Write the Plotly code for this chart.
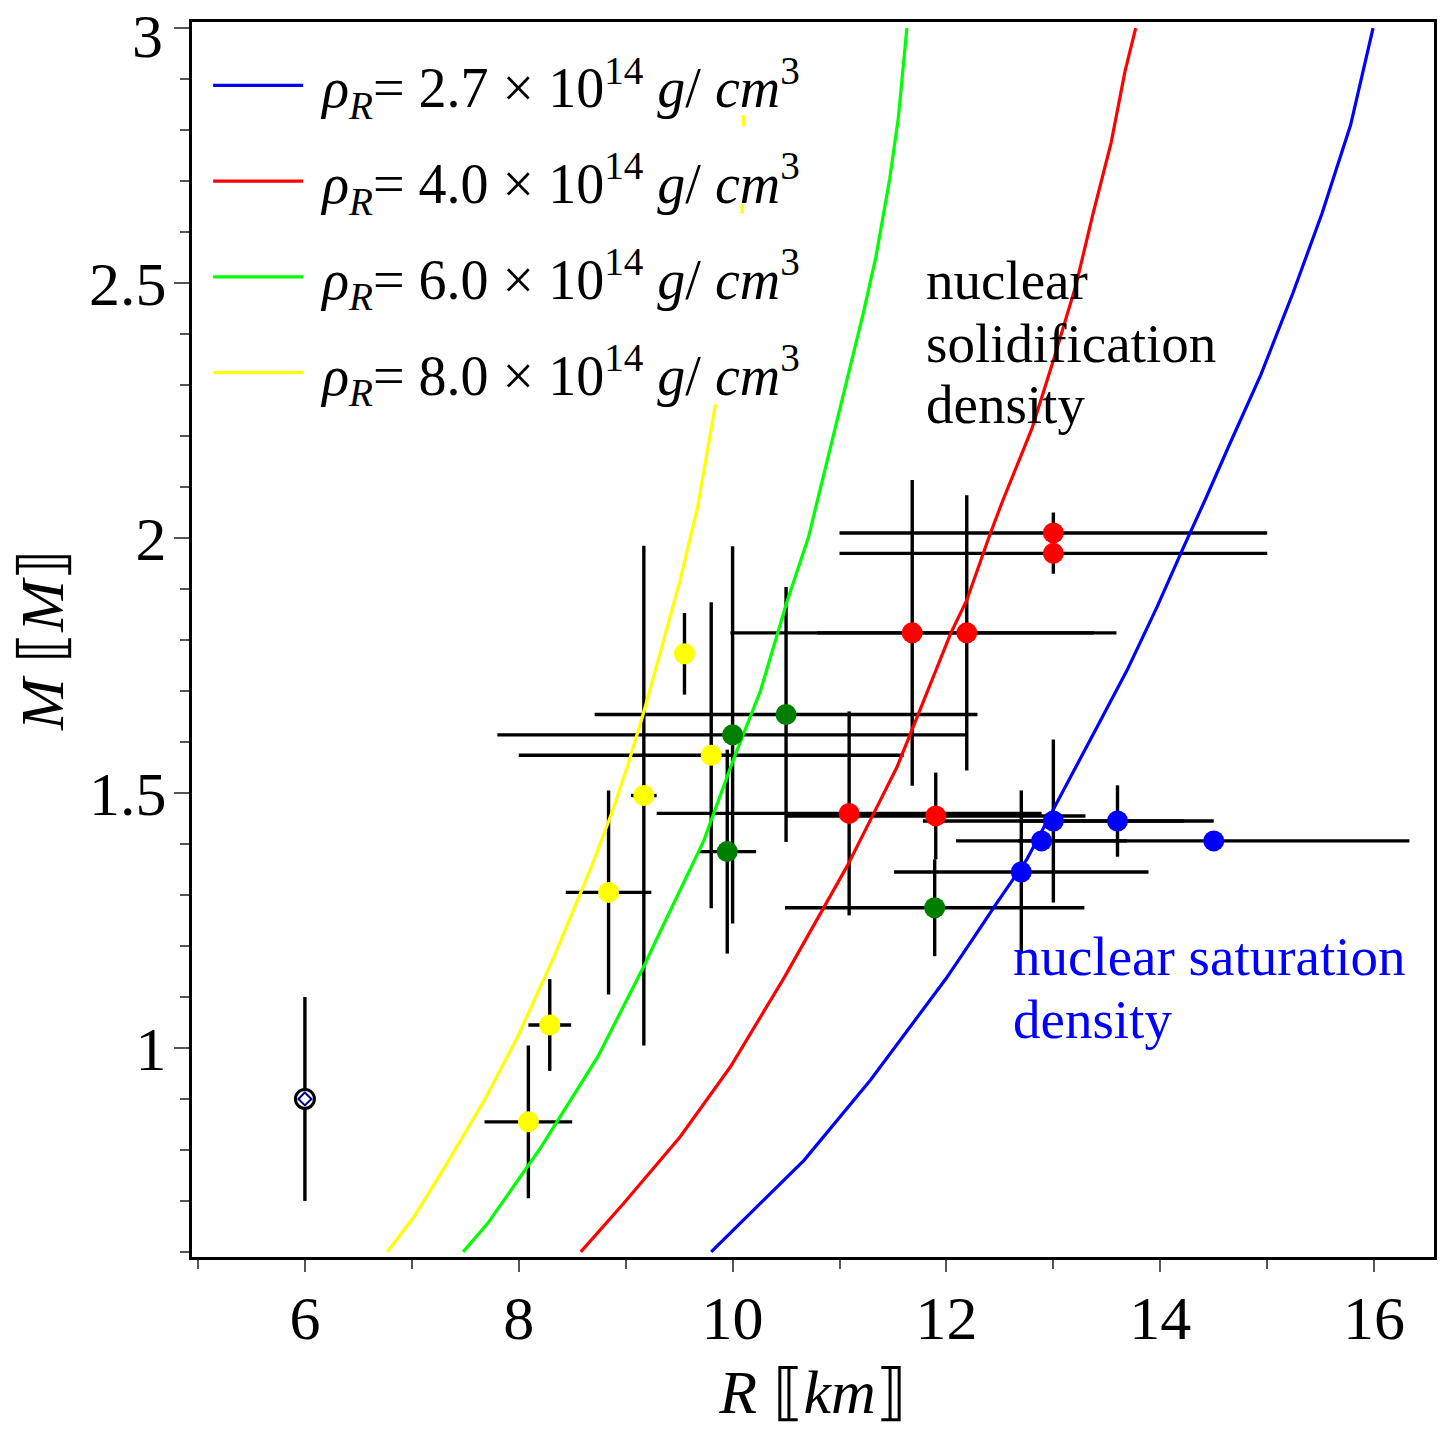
import plotly.graph_objects as go

# ---------------- data ----------------
# model curves (R in km, M in solar masses)
blue_R = [9.80, 10.20, 10.67, 11.29, 12.00, 12.26, 12.47, 12.75, 13.00, 13.16, 13.41, 13.69, 13.97, 14.22, 14.42, 14.64, 14.94, 15.24, 15.51, 15.78, 15.99]
blue_M = [0.60, 0.682, 0.78, 0.937, 1.137, 1.218, 1.284, 1.369, 1.467, 1.532, 1.63, 1.741, 1.865, 1.983, 2.075, 2.18, 2.32, 2.48, 2.635, 2.81, 3.0]

red_R = [8.58, 8.98, 9.51, 9.98, 10.48, 10.82, 11.07, 11.32, 11.54, 11.69, 11.85, 12.04, 12.19, 12.41, 12.53, 12.80, 13.01, 13.21, 13.37, 13.54, 13.67, 13.77]
red_M = [0.60, 0.695, 0.826, 0.963, 1.137, 1.264, 1.356, 1.46, 1.552, 1.63, 1.715, 1.813, 1.878, 2.009, 2.075, 2.215, 2.355, 2.495, 2.635, 2.775, 2.915, 3.0]

green_R = [7.48, 7.71, 8.21, 8.74, 9.17, 9.30, 9.73, 10.01, 10.26, 10.51, 10.71, 10.89, 11.07, 11.22, 11.34, 11.47, 11.55, 11.60, 11.63]
green_M = [0.60, 0.656, 0.806, 0.983, 1.16, 1.218, 1.406, 1.567, 1.70, 1.876, 2.002, 2.156, 2.31, 2.439, 2.551, 2.705, 2.824, 2.929, 3.0]

yellow_R = [6.77, 7.02, 7.33, 7.68, 7.99, 8.33, 8.67, 8.86, 9.02, 9.16, 9.34, 9.51, 9.67, 9.84]
yellow_M = [0.60, 0.669, 0.774, 0.898, 1.022, 1.179, 1.35, 1.455, 1.554, 1.652, 1.788, 1.918, 2.058, 2.262]

# small visible pieces of the yellow curve between legend rows
yellow_frag_R = [10.10, 10.10, None, 10.09, 10.09]
yellow_frag_M = [2.808, 2.829, None, 2.636, 2.655]

# observed neutron stars: R, M, dR, dM
yel_R = [9.55, 9.80, 9.17, 8.84, 8.29, 8.09]
yel_M = [1.773, 1.574, 1.495, 1.305, 1.045, 0.855]
yel_dR = [0.0, 1.8, 0.12, 0.4, 0.2, 0.41]
yel_dM = [0.08, 0.3, 0.49, 0.2, 0.09, 0.15]

grn_R = [10.5, 10.0, 9.95, 11.89]
grn_M = [1.654, 1.614, 1.385, 1.275]
grn_dR = [1.79, 2.2, 0.27, 1.4]
grn_dM = [0.25, 0.37, 0.2, 0.095]

red_pR = [13.0, 13.0, 11.68, 12.19, 11.09, 11.9]
red_pM = [2.01, 1.97, 1.814, 1.814, 1.46, 1.455]
red_dR = [2.0, 2.0, 1.7, 1.4, 1.8, 1.4]
red_dM = [0.04, 0.04, 0.30, 0.27, 0.2, 0.085]

blu_R = [12.7, 12.89, 13.0, 13.6, 14.5]
blu_M = [1.345, 1.406, 1.445, 1.445, 1.406]
blu_dR = [1.19, 0.8, 1.22, 0.9, 1.83]
blu_dM = [0.16, 0.0, 0.16, 0.07, 0.0]

spc_R = [6.0]
spc_M = [0.9]
spc_dM = [0.2]

legend_names = [
    "\u00a0<i>ρ</i><sub><i>R</i></sub>= 2.7 × 10<sup>14</sup> <i>g</i>/ <i>cm</i><sup>3</sup>",
    "\u00a0<i>ρ</i><sub><i>R</i></sub>= 4.0 × 10<sup>14</sup> <i>g</i>/ <i>cm</i><sup>3</sup>",
    "\u00a0<i>ρ</i><sub><i>R</i></sub>= 6.0 × 10<sup>14</sup> <i>g</i>/ <i>cm</i><sup>3</sup>",
    "\u00a0<i>ρ</i><sub><i>R</i></sub>= 8.0 × 10<sup>14</sup> <i>g</i>/ <i>cm</i><sup>3</sup>",
]

x_ticks = [6, 8, 10, 12, 14, 16]
y_ticks = [1, 1.5, 2, 2.5, 3]
# the top label ("3") is drawn as an annotation just below its tick so it is not clipped
y_ticktext = ["1", "1.5", "2", "2.5", ""]
y_top_label = "3"

FONT = "Liberation Serif, Times New Roman, serif"
ERR_W = 3.4

fig = go.Figure()

# ---- error bars (drawn first, under curves and markers) ----
def err_trace(R, M, dR, dM):
    return go.Scatter(
        x=R, y=M, mode="markers",
        marker=dict(size=2, opacity=0, color="black"),
        error_x=dict(type="data", array=dR, visible=True, width=0, thickness=ERR_W, color="black"),
        error_y=dict(type="data", array=dM, visible=True, width=0, thickness=ERR_W, color="black"),
        showlegend=False, hoverinfo="skip",
    )

fig.add_trace(err_trace(yel_R, yel_M, yel_dR, yel_dM))
fig.add_trace(err_trace(grn_R, grn_M, grn_dR, grn_dM))
fig.add_trace(err_trace(red_pR, red_pM, red_dR, red_dM))
fig.add_trace(err_trace(blu_R, blu_M, blu_dR, blu_dM))
fig.add_trace(go.Scatter(
    x=spc_R, y=spc_M, mode="markers", marker=dict(size=2, opacity=0),
    error_y=dict(type="data", array=spc_dM, visible=True, width=0, thickness=ERR_W, color="black"),
    showlegend=False, hoverinfo="skip"))

# ---- model curves ----
curves = [
    (blue_R, blue_M, "#0000FF", legend_names[0]),
    (red_R, red_M, "#FF0000", legend_names[1]),
    (green_R, green_M, "#00FF00", legend_names[2]),
    (yellow_R, yellow_M, "#FFFF00", legend_names[3]),
]
for i, (R, M, c, name) in enumerate(curves):
    fig.add_trace(go.Scatter(
        x=R, y=M, mode="lines", line=dict(color=c, width=3.2),
        name=name, legendgroup=f"g{i}", showlegend=True))

fig.add_trace(go.Scatter(
    x=yellow_frag_R, y=yellow_frag_M, mode="lines", line=dict(color="#FFFF00", width=3.2),
    showlegend=False, hoverinfo="skip", connectgaps=False))

# ---- markers ----
def mk_trace(R, M, c):
    return go.Scatter(x=R, y=M, mode="markers",
                      marker=dict(size=21, color=c, line=dict(width=0)),
                      showlegend=False)

fig.add_trace(mk_trace(yel_R, yel_M, "#FFFF00"))
fig.add_trace(mk_trace(grn_R, grn_M, "#007F00"))
fig.add_trace(mk_trace(red_pR, red_pM, "#FF0000"))
fig.add_trace(mk_trace(blu_R, blu_M, "#0000FF"))
fig.add_trace(go.Scatter(x=spc_R, y=spc_M, mode="markers",
                         marker=dict(size=19, color="white", symbol="circle",
                                     line=dict(width=3, color="black")),
                         showlegend=False))
fig.add_trace(go.Scatter(x=spc_R, y=spc_M, mode="markers",
                         marker=dict(size=10, symbol="diamond-open",
                                     line=dict(width=2, color="#000080"), color="#000080"),
                         showlegend=False))

# ---- annotations ----
annots = [
    dict(x=11.79, y=2.506, text="nuclear", color="black"),
    dict(x=11.79, y=2.382, text="solidification", color="black"),
    dict(x=11.79, y=2.261, text="density", color="black"),
    dict(x=12.60, y=1.18, text="nuclear saturation", color="#0000FF"),
    dict(x=12.60, y=1.056, text="density", color="#0000FF"),
]
for a in annots:
    fig.add_annotation(x=a["x"], y=a["y"], text=a["text"], showarrow=False,
                       xanchor="left", yanchor="middle",
                       font=dict(family=FONT, size=55, color=a["color"]))

# top y tick label
fig.add_annotation(xref="paper", x=0, yref="y", y=y_ticks[-1], text=y_top_label,
                   showarrow=False, xanchor="right", yanchor="middle",
                   xshift=-27, yshift=-8,
                   font=dict(family=FONT, size=62, color="black"))

axis_common = dict(
    showline=True, linewidth=3, linecolor="black", mirror=True,
    showgrid=False, zeroline=False, automargin=False,
    ticks="outside", tickwidth=1.5, tickcolor="#555555",
    tickfont=dict(family=FONT, size=62, color="black"),
    ticklabeloverflow="allow",
)

fig.update_xaxes(
    range=[4.944, 16.56], tickmode="array", tickvals=x_ticks, ticklen=12,
    minor=dict(ticks="outside", dtick=1, tick0=5, ticklen=9, tickwidth=1.5, tickcolor="#555555"),
    ticklabelstandoff=-7,
    title=dict(text="<i>R</i> ⟦<i>km</i>⟧", font=dict(family=FONT, size=62, color="black"), standoff=20),
    **axis_common)
fig.update_yaxes(
    range=[0.59, 3.012], tickmode="array", tickvals=y_ticks, ticktext=y_ticktext, ticklen=15,
    minor=dict(ticks="outside", dtick=0.1, tick0=0, ticklen=9, tickwidth=1.5, tickcolor="#555555"),
    ticklabelstandoff=-5,
    title=dict(text="<i>M</i> ⟦<i>M</i>⟧", font=dict(family=FONT, size=62, color="black"), standoff=8),
    **axis_common)

# page body has an 8px margin: size and margins compensate so the plot box
# lands where the reference puts it within the 1452x1434 window
fig.update_layout(
    width=1436, height=1418,
    margin=dict(l=184, r=10, t=14, b=169, autoexpand=False),
    paper_bgcolor="white", plot_bgcolor="white",
    font=dict(family=FONT, color="black"),
    legend=dict(x=0.013, y=0.9835, xanchor="left", yanchor="top",
                bgcolor="rgba(255,255,255,0)", borderwidth=0,
                font=dict(family=FONT, size=56, color="black"),
                traceorder="grouped", tracegroupgap=20, itemwidth=90),
)

fig.write_html("out.html")
